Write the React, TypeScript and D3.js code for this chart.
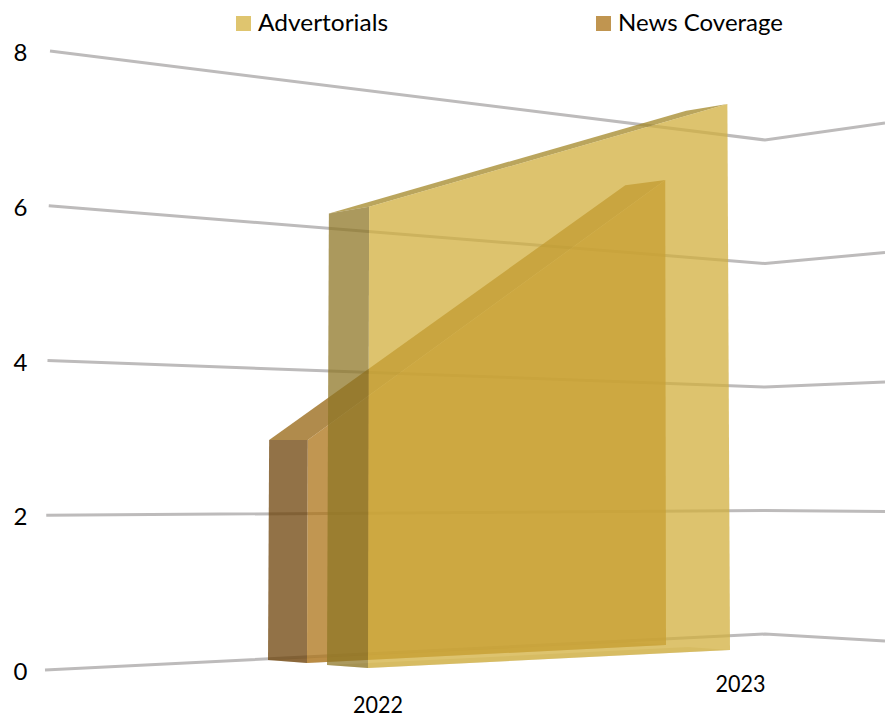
import React from "react";
import * as d3 from "d3";

const categories = ["2022", "2023"];
const advertorials = [6, 7];
const newsCoverage = [3, 6];
const yTicks = [0, 2, 4, 6, 8];

// Perspective frame: each vertical edge maps value 0..8 onto a pixel segment.
type Edge = { x0: number; x8: number; y0: number; y8: number };
const edgeScales = (e: Edge) => ({
  x: d3.scaleLinear().domain([0, 8]).range([e.x0, e.x8]),
  y: d3.scaleLinear().domain([0, 8]).range([e.y0, e.y8]),
});

const wallLeft = edgeScales({ x0: 45, x8: 50, y0: 670, y8: 51 });
const wallCorner = edgeScales({ x0: 765, x8: 765, y0: 634, y8: 140 });
const wallRight = edgeScales({ x0: 885, x8: 885, y0: 641, y8: 123 });

const seriesFrames = [
  {
    name: "News Coverage",
    values: newsCoverage,
    front: [
      edgeScales({ x0: 307, x8: 309, y0: 663, y8: 68 }),
      edgeScales({ x0: 666, x8: 665, y0: 645, y8: 25 }),
    ],
    back: [
      edgeScales({ x0: 268, x8: 271, y0: 660, y8: 73 }),
      edgeScales({ x0: 626, x8: 625, y0: 642, y8: 33 }),
    ],
    front3d: "rgb(172,114,21)",
    side3d: "rgb(109,66,8)",
    top3d: "rgb(149,99,15)",
    legend: "#C09550",
    legendX: 596,
    labelLength: 165,
  },
  {
    name: "Advertorials",
    values: advertorials,
    front: [
      edgeScales({ x0: 368, x8: 369.5, y0: 668, y8: 53 }),
      edgeScales({ x0: 730, x8: 727, y0: 650, y8: 26 }),
    ],
    back: [
      edgeScales({ x0: 327, x8: 329.5, y0: 665, y8: 63 }),
      edgeScales({ x0: 688, x8: 686, y0: 647, y8: 34 }),
    ],
    front3d: "rgb(209,175,60)",
    side3d: "rgb(142,118,38)",
    top3d: "rgb(162,134,38)",
    legend: "#DFC56F",
    legendX: 236,
    labelLength: 130,
  },
];

const categoryLabelPos = [
  { x: 378, y: 712.5 },
  { x: 740.5, y: 692 },
];

const FONT = "Lato, Carlito, 'Open Sans', sans-serif";
const polyline = d3.line<[number, number]>();

export default function App() {
  const at = (s: ReturnType<typeof edgeScales>, v: number): [number, number] => [s.x(v), s.y(v)];
  const face = (pts: [number, number][]) => polyline(pts)! + "Z";

  return (
    <svg
      width={885}
      height={717}
      style={{ position: "absolute", left: 0, top: 0, background: "#fff" }}
      fontFamily={FONT}
    >
      {yTicks.map((t) => (
        <path
          key={t}
          d={polyline([at(wallLeft, t), at(wallCorner, t), at(wallRight, t)])!}
          fill="none"
          stroke="#BDBBBB"
          strokeWidth={3}
        />
      ))}

      {seriesFrames.map((s) => {
        const [v0, v1] = s.values;
        return (
          <g key={s.name} fillOpacity={0.745}>
            <path
              d={face([at(s.back[0], 0), at(s.front[0], 0), at(s.front[1], 0), at(s.back[1], 0)])}
              fill={s.side3d}
              fillOpacity={0.2}
            />
            <path
              d={face([at(s.back[0], v0), at(s.front[0], v0), at(s.front[1], v1), at(s.back[1], v1)])}
              fill={s.top3d}
            />
            <path
              d={face([at(s.back[0], 0), at(s.back[0], v0), at(s.front[0], v0), at(s.front[0], 0)])}
              fill={s.side3d}
            />
            <path
              d={face([at(s.front[0], 0), at(s.front[0], v0), at(s.front[1], v1), at(s.front[1], 0)])}
              fill={s.front3d}
            />
          </g>
        );
      })}

      {yTicks.map((t) => (
        <text key={t} x={20.5} y={wallLeft.y(t) + 10} textAnchor="middle" fontSize={24} fill="#000">
          {t}
        </text>
      ))}

      {categories.map((c, i) => (
        <text
          key={c}
          x={categoryLabelPos[i].x}
          y={categoryLabelPos[i].y}
          textAnchor="middle"
          fontSize={23}
          textLength={50}
          lengthAdjust="spacingAndGlyphs"
          fill="#000"
        >
          {c}
        </text>
      ))}

      {seriesFrames.map((s) => (
        <g key={s.name}>
          <rect x={s.legendX} y={16} width={15} height={15} fill={s.legend} />
          <text
            x={s.legendX + 22}
            y={31}
            fontSize={23.5}
            textLength={s.labelLength}
            lengthAdjust="spacingAndGlyphs"
            fill="#000"
          >
            {s.name}
          </text>
        </g>
      ))}
    </svg>
  );
}
